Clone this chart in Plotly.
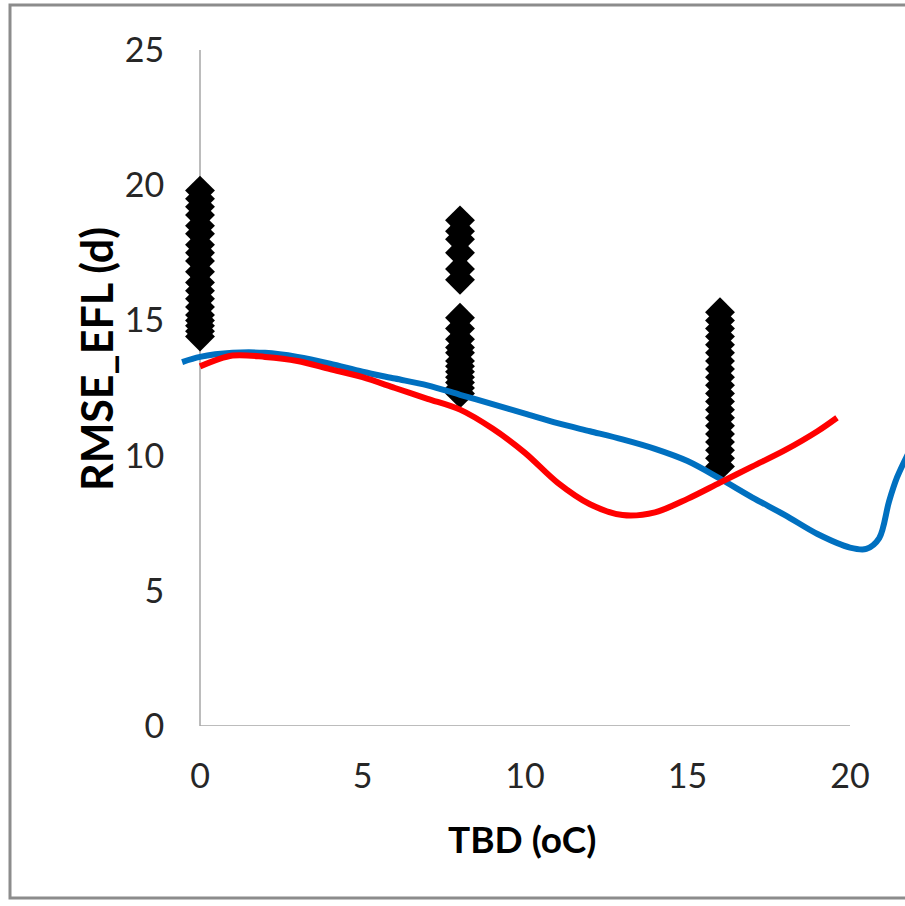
import plotly.graph_objects as go

# ---- data ----
tbd_levels = [0, 8, 16]
rmse_tbd0 = [19.8, 19.5, 19.2, 18.9, 18.5, 18.2, 17.8, 17.5, 17.2, 16.8, 16.4, 16.1,
             15.8, 15.5, 15.2, 15.0, 14.8, 14.6, 14.4]
rmse_tbd8 = [18.7, 18.3, 18.0, 17.5, 16.9, 16.5, 15.1, 14.7, 14.3, 14.0, 13.8, 13.5,
             13.3, 13.1, 12.9, 12.7, 12.5, 12.3]
rmse_tbd16 = [15.3, 15.0, 14.7, 14.4, 14.1, 13.8, 13.5, 13.2, 12.9, 12.6, 12.3, 12.0,
              11.7, 11.4, 11.1, 10.8, 10.5, 10.2, 9.9, 9.6]

red_x = [0, 1, 2, 3, 4, 5, 6, 7, 8, 9, 10, 11, 12, 13, 14, 15, 16, 17, 18, 19, 19.6]
red_y = [13.3, 13.7, 13.65, 13.5, 13.2, 12.9, 12.5, 12.1, 11.7, 11.0, 10.1, 9.0, 8.2,
         7.8, 7.9, 8.4, 9.0, 9.6, 10.2, 10.9, 11.4]

blue_x = [-0.55, 0, 1, 2, 3, 4, 5, 6, 7, 8, 9, 10, 11, 12, 13, 14, 15, 16, 17, 18, 19,
          20, 20.5, 20.9, 21.2, 21.45, 21.8]
blue_y = [13.46, 13.65, 13.8, 13.8, 13.65, 13.4, 13.1, 12.85, 12.6, 12.25, 11.9, 11.55,
          11.2, 10.9, 10.6, 10.25, 9.8, 9.15, 8.45, 7.8, 7.1, 6.6, 6.55, 6.95, 8.3, 9.2, 10.1]

x_ticks = [0, 5, 10, 15, 20]
y_ticks = [0, 5, 10, 15, 20, 25]

x_title = "TBD (oC)"
y_title = "RMSE_EFL (d)"

FONT = "Lato, 'Open Sans', sans-serif"
AXIS_GRAY = "#A6A6A6"

# ---- geometry ----
W, H = 905, 906
L, R, T, B = 150, 0, 50, 180
plot_w = W - L - R
plot_h = H - T - B
x0_px = 200
px_per_x = 32.5
x_range = [(L - x0_px) / px_per_x, (W - R - x0_px) / px_per_x]


def px_to_paper_x(px):
    return (px - L) / plot_w


def py_to_paper_y(py):
    return 1 - (py - T) / plot_h


fig = go.Figure()

stacks = [rmse_tbd0, rmse_tbd8, rmse_tbd16]
for lvl, vals in zip(tbd_levels, stacks):
    fig.add_trace(go.Scatter(
        x=[lvl] * len(vals), y=vals, mode="markers",
        marker=dict(symbol="diamond", size=23, color="black", line=dict(width=0)),
        showlegend=False, hoverinfo="skip"))

fig.add_trace(go.Scatter(
    x=blue_x, y=blue_y, mode="lines",
    line=dict(color="#0070C0", width=6, shape="spline", smoothing=0.9),
    showlegend=False))
fig.add_trace(go.Scatter(
    x=red_x, y=red_y, mode="lines",
    line=dict(color="#FF0000", width=6, shape="spline", smoothing=0.9),
    showlegend=False))

shapes = [
    # axis lines
    dict(type="line", xref="x", yref="y", x0=0, x1=20, y0=0, y1=0,
         line=dict(color=AXIS_GRAY, width=1.5), layer="below"),
    dict(type="line", xref="x", yref="y", x0=0, x1=0, y0=0, y1=25,
         line=dict(color=AXIS_GRAY, width=1.5), layer="below"),
    # outer chart frame
    dict(type="rect", xref="paper", yref="paper",
         x0=px_to_paper_x(10), x1=px_to_paper_x(W + 20),
         y0=py_to_paper_y(898), y1=py_to_paper_y(5),
         line=dict(color="#8C8C8C", width=3), layer="below"),
]

annotations = [
    dict(text=f"<b>{x_title}</b>", xref="x", yref="paper", x=9.9, y=py_to_paper_y(838),
         xanchor="center", yanchor="middle", showarrow=False,
         font=dict(family=FONT, size=37, color="black")),
    dict(text=f"<b>{y_title}</b>", xref="paper", yref="paper",
         x=px_to_paper_x(97), y=py_to_paper_y(359), textangle=-90,
         xanchor="center", yanchor="middle", showarrow=False,
         font=dict(family=FONT, size=43, color="black")),
]

fig.update_layout(
    width=W, height=H, autosize=False,
    margin=dict(l=L, r=R, t=T, b=B, pad=0),
    paper_bgcolor="white", plot_bgcolor="white",
    font=dict(family=FONT, color="#262626"),
    shapes=shapes, annotations=annotations, showlegend=False,
    xaxis=dict(range=x_range, tickvals=x_ticks, ticktext=[str(v) for v in x_ticks],
               showgrid=False, zeroline=False, showline=False,
               ticks="outside", ticklen=20, tickcolor="rgba(0,0,0,0)",
               tickfont=dict(family=FONT, size=34, color="#262626")),
    yaxis=dict(range=[0, 25], tickvals=y_ticks, ticktext=[str(v) for v in y_ticks],
               showgrid=False, zeroline=False, showline=False,
               anchor="free", position=px_to_paper_x(x0_px),
               ticks="outside", ticklen=29, tickcolor="rgba(0,0,0,0)",
               tickfont=dict(family=FONT, size=34, color="#262626")),
)

fig.write_html("out.html",
               config={"displayModeBar": False},
               post_script="document.body.style.margin='0';document.body.style.overflow='hidden';")
